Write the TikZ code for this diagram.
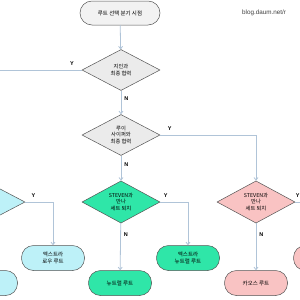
\documentclass[tikz,border=0pt]{standalone}
\usepackage{fontspec}
\setmainfont{Liberation Sans}
\newfontfamily\kr{Noto Sans CJK KR}
\usetikzlibrary{shapes.geometric,arrows.meta}
\definecolor{lnc}{HTML}{B0C4D8}
\definecolor{bdc}{HTML}{555555}
\definecolor{grayf}{HTML}{EBEBEB}
\definecolor{startf}{HTML}{F2F2F2}
\definecolor{greenf}{HTML}{2FE6A8}
\definecolor{pinkf}{HTML}{F9C3C3}
\definecolor{cyanf}{HTML}{BDF1F8}
\tikzset{
  dec/.style={diamond, draw=bdc, line width=0.5pt, inner sep=0pt, minimum width=78pt, minimum height=41pt, align=center, font=\kr\fontsize{5.3}{6.6}\selectfont},
  term/.style={rectangle, rounded corners=12pt, draw=bdc, line width=0.5pt, minimum width=63pt, minimum height=25pt, align=center, font=\kr\fontsize{5.5}{7}\selectfont},
  conn/.style={draw=lnc, line width=0.8pt, -{Straight Barb[length=2.5pt,width=4pt]}},
  plain/.style={draw=lnc, line width=0.8pt},
  yn/.style={font=\fontsize{5.5}{6}\selectfont\bfseries, inner sep=0pt}
}
\begin{document}
\begin{tikzpicture}[x=1pt,y=-1pt]
\useasboundingbox (0,0) rectangle (300,300);
\clip (0,0) rectangle (300,300);
\fill[white] (0,0) rectangle (300,300);
\node[term, fill=startf, minimum width=80pt, minimum height=24pt] (s) at (120,13) {루트 선택 분기 시점};
\node[anchor=west, inner sep=0pt, text=black!75, font=\fontsize{6.3}{7}\selectfont] (blog) at (242,13) {blog.daum.net/r};
\node[dec, fill=grayf] (d1) at (121,70) {지인과\\최종 협력};
\node[dec, fill=grayf] (d2) at (121,135) {루이\\사이퍼와\\최종 협력};
\node[dec, fill=greenf] (d3) at (121,202) {STEVEN과\\만나\\세트 퇴치};
\node[dec, fill=pinkf] (d4) at (256,202) {STEVEN과\\만나\\세트 퇴치};
\node[dec, fill=cyanf] (dl) at (-14,202) {};
\node[term, fill=greenf] (xn) at (188,258) {엑스트라\\뉴트럴 루트};
\node[term, fill=cyanf] (xl) at (53,258) {엑스트라\\로우 루트};
\node[term, fill=greenf] (nr) at (120,283) {뉴트럴 루트};
\node[term, fill=pinkf] (cr) at (256,283) {카오스 루트};
\node[term, fill=cyanf] (lr) at (-14,283) {};
\node[term, fill=pinkf] (xc) at (325,258) {};
\coordinate (lftend) at (0,70);
\coordinate (rgtend) at (300,202);
\draw[conn] (s) -- (d1);
\draw[conn] (d1) -- node[yn, right=3pt, pos=0.35] {N} (d2);
\draw[conn] (d2) -- node[yn, right=3pt, pos=0.35] {N} (d3);
\draw[conn] (d3) -- node[yn, right=3pt, pos=0.25] {N} (nr);
\draw[conn] (d4) -- node[yn, right=3pt, pos=0.25] {N} (cr);
\draw[plain] (d1.west) -- node[yn, above=4pt, pos=0.12] {Y} (lftend);
\draw[conn] (d2.east) -| node[yn, above=4pt, pos=0.05] {Y} (d4.north);
\draw[conn] (d3.east) -| node[yn, above=4pt, pos=0.1] {Y} (xn.north);
\draw[conn] (dl.east) -| node[yn, above=4pt, pos=0.15] {Y} (xl.north);
\draw[plain] (d4.east) -- node[yn, above=4pt, pos=0.5] {Y} (rgtend);
\end{tikzpicture}
\end{document}
